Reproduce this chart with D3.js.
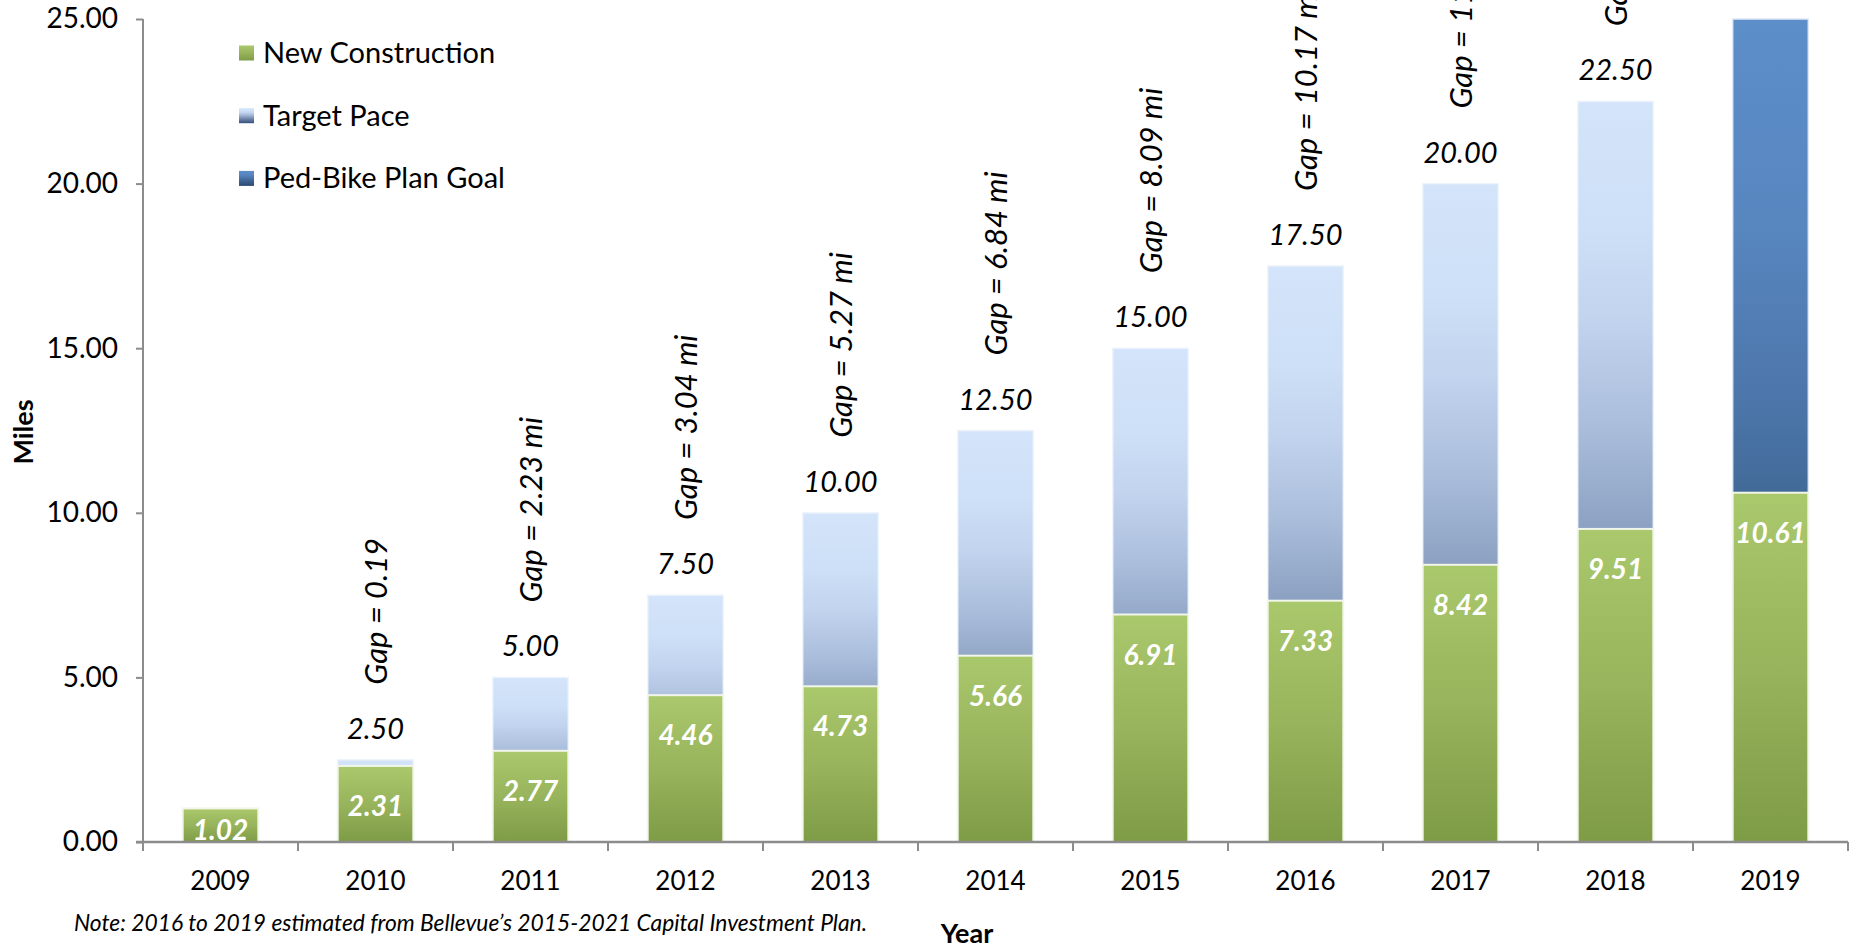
<!DOCTYPE html>
<html>
<head>
<meta charset="utf-8">
<script src="https://cdn.jsdelivr.net/npm/d3@7"></script>
<style>
  html, body { margin: 0; padding: 0; background: #ffffff; }
  svg { display: block; font-family: Lato, "Open Sans", sans-serif; }
</style>
</head>
<body>
<svg id="chart" width="1854" height="948"></svg>
<script>
// ---------------- data ----------------
const years = ["2009", "2010", "2011", "2012", "2013", "2014", "2015", "2016", "2017", "2018", "2019"];
const newConstruction = [1.02, 2.31, 2.77, 4.46, 4.73, 5.66, 6.91, 7.33, 8.42, 9.51, 10.61];
const targetPace = [0, 2.50, 5.00, 7.50, 10.00, 12.50, 15.00, 17.50, 20.00, 22.50, 0];
const planGoal = [0, 0, 0, 0, 0, 0, 0, 0, 0, 0, 25.00];
const gapLabels = ["", "Gap = 0.19", "Gap = 2.23 mi", "Gap = 3.04 mi", "Gap = 5.27 mi", "Gap = 6.84 mi",
                   "Gap = 8.09 mi", "Gap = 10.17 mi", "Gap = 11.58 mi", "Gap = 12.99 mi", ""];
const yTicks = [0, 5, 10, 15, 20, 25];
const seriesNames = ["New Construction", "Target Pace", "Ped-Bike Plan Goal"];
const axisTitles = { y: "Miles", x: "Year" };
const noteText = "Note: 2016 to 2019 estimated from Bellevue\u2019s 2015-2021 Capital Investment Plan.";

// ---------------- setup ----------------
const svg = d3.select("#chart");
const plot = { left: 143, right: 1848, top: 19, bottom: 842 };

const x = d3.scaleBand().domain(years).range([plot.left, plot.right]).paddingInner(0.512).paddingOuter(0.256);
const y = d3.scaleLinear().domain([0, 25]).range([plot.bottom, plot.top]);
const fmt = d3.format(".2f");

// gradients
const defs = svg.append("defs");
function grad(id, stops) {
  const g = defs.append("linearGradient").attr("id", id)
    .attr("x1", 0).attr("y1", 0).attr("x2", 0).attr("y2", 1);
  stops.forEach(([o, c]) => g.append("stop").attr("offset", o).attr("stop-color", c));
}
grad("gGreen", [[0, "#aac86c"], [0.5, "#98b45c"], [1, "#7e9b46"]]);
grad("gTarget", [[0, "#d4e4fa"], [0.17, "#cde0f7"], [0.29, "#c2d4ee"], [0.44, "#aabddb"], [0.58, "#8ca0c1"], [0.8, "#5e749c"], [1, "#34507c"]]);
grad("gGoal", [[0, "#5c8eca"], [0.25, "#5886bf"], [0.45, "#4d77ac"], [0.58, "#426a98"], [1, "#2b4a72"]]);

const rows = years.map((yr, i) => ({
  year: yr, nc: newConstruction[i], tp: targetPace[i], goal: planGoal[i], gap: gapLabels[i], i
}));

// ---------------- axes ----------------
const yAxis = svg.append("g").attr("transform", `translate(${plot.left},0)`)
  .call(d3.axisLeft(y).tickValues(yTicks).tickFormat(fmt).tickSize(7).tickPadding(18));
yAxis.select(".domain").remove();
yAxis.selectAll(".tick line").attr("stroke", "#8c8c8c").attr("stroke-width", 2);
yAxis.selectAll(".tick text").attr("font-size", 28).attr("fill", "#000").attr("font-family", "Lato");

const xAxis = svg.append("g").attr("transform", `translate(0,${plot.bottom})`)
  .call(d3.axisBottom(x).tickSize(0).tickPadding(30));
xAxis.select(".domain").remove();
xAxis.selectAll(".tick text").attr("font-size", 26).attr("fill", "#000").attr("font-family", "Lato");

// category boundary ticks
const step = x.step();
const bounds = d3.range(years.length + 1).map(k => plot.left + k * step);
svg.append("g").selectAll("line").data(bounds).join("line")
  .attr("x1", d => d).attr("x2", d => d)
  .attr("y1", plot.bottom).attr("y2", plot.bottom + 9)
  .attr("stroke", "#8c8c8c").attr("stroke-width", 2);

// ---------------- bars ----------------
const bars = svg.append("g");
// target pace (full height, behind)
bars.selectAll("rect.tp").data(rows.filter(d => d.tp > 0)).join("rect").attr("class", "tp")
  .attr("x", d => x(d.year)).attr("width", x.bandwidth())
  .attr("y", d => y(d.tp)).attr("height", d => y(0) - y(d.tp))
  .attr("fill", "url(#gTarget)").attr("stroke", "#eef4fc").attr("stroke-width", 1.5);
// plan goal (full height, behind)
bars.selectAll("rect.goal").data(rows.filter(d => d.goal > 0)).join("rect").attr("class", "goal")
  .attr("x", d => x(d.year)).attr("width", x.bandwidth())
  .attr("y", d => y(d.goal)).attr("height", d => y(0) - y(d.goal))
  .attr("fill", "url(#gGoal)").attr("stroke", "#dfe9f5").attr("stroke-width", 1.5);
// new construction (front)
bars.selectAll("rect.nc").data(rows).join("rect").attr("class", "nc")
  .attr("x", d => x(d.year)).attr("width", x.bandwidth())
  .attr("y", d => y(d.nc)).attr("height", d => y(0) - y(d.nc))
  .attr("fill", "url(#gGreen)").attr("stroke", "#f2f6ea").attr("stroke-width", 2);

// axis lines (drawn over bars)
svg.append("line").attr("x1", plot.left).attr("x2", plot.left).attr("y1", plot.top).attr("y2", plot.bottom + 9)
  .attr("stroke", "#8c8c8c").attr("stroke-width", 2);
svg.append("line").attr("x1", plot.left - 7).attr("x2", plot.right).attr("y1", plot.bottom).attr("y2", plot.bottom)
  .attr("stroke", "#8c8c8c").attr("stroke-width", 2.5);

// ---------------- labels ----------------
const cx = d => x(d.year) + x.bandwidth() / 2;
// inner value labels
svg.append("g").selectAll("text").data(rows).join("text")
  .attr("x", cx)
  .attr("y", d => Math.min(y(d.nc) + 40, y(0) - 12) + 10)
  .attr("text-anchor", "middle")
  .attr("font-size", 28).attr("font-weight", 700).attr("font-style", "italic").attr("fill", "#ffffff")
  .text(d => fmt(d.nc));
// totals
svg.append("g").selectAll("text").data(rows.filter(d => d.tp > 0)).join("text")
  .attr("x", cx).attr("y", d => y(d.tp) - 21)
  .attr("text-anchor", "middle")
  .attr("font-size", 29).attr("font-style", "italic").attr("fill", "#000")
  .text(d => fmt(d.tp));
// gap labels (rotated)
svg.append("g").selectAll("text").data(rows.filter(d => d.gap)).join("text")
  .attr("transform", d => `translate(${cx(d) + 11},${y(d.tp) - 75}) rotate(-90)`)
  .attr("text-anchor", "start")
  .attr("font-size", 31).attr("font-style", "italic").attr("fill", "#000")
  .text(d => d.gap);

// ---------------- legend ----------------
const legendFills = ["url(#gGreen)", "url(#gTarget)", "url(#gGoal)"];
const lg = svg.append("g").selectAll("g").data(seriesNames).join("g")
  .attr("transform", (d, i) => `translate(239,${53 + i * 62.7})`);
lg.append("rect").attr("x", 0).attr("y", -7.5).attr("width", 15).attr("height", 15)
  .attr("fill", (d, i) => legendFills[i]);
lg.append("text").attr("x", 24).attr("y", 10).attr("font-size", 29).attr("fill", "#000").text(d => d);

// ---------------- titles & note ----------------
svg.append("text").attr("transform", "translate(33,432) rotate(-90)")
  .attr("text-anchor", "middle").attr("font-size", 27).attr("font-weight", 700).text(axisTitles.y);
svg.append("text").attr("x", 967).attr("y", 943)
  .attr("text-anchor", "middle").attr("font-size", 27).attr("font-weight", 700).text(axisTitles.x);
svg.append("text").attr("x", 74).attr("y", 931)
  .attr("font-size", 22.8).attr("font-style", "italic").attr("fill", "#000").text(noteText);
</script>
</body>
</html>
